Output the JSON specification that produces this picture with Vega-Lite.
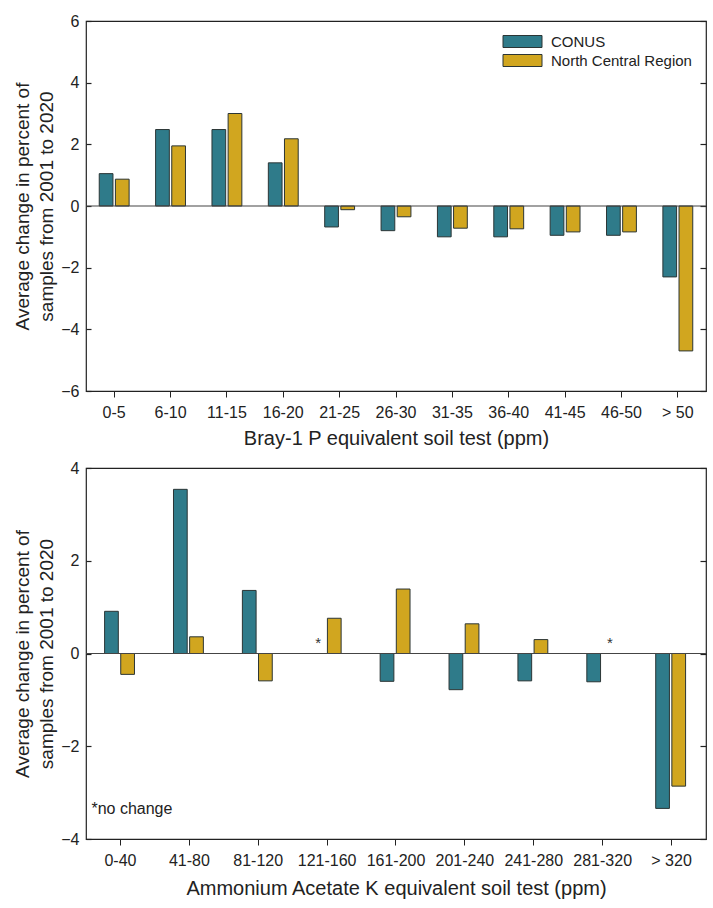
{
  "$schema": "https://vega.github.io/schema/vega-lite/v6.json",
  "padding": {"left": 13, "top": 12, "right": 0, "bottom": 0},
  "background": "white",
  "spacing": 10,
  "config": {
    "font": "Liberation Sans",
    "view": {"stroke": "#222", "strokeWidth": 1.2},
    "axis": {"labelFont": "Liberation Sans", "titleFont": "Liberation Sans", "labelColor": "#222", "titleColor": "#222", "domain": false, "grid": false, "tickColor": "#222"},
    "legend": {"labelFont": "Liberation Sans", "labelFontSize": 15, "labelColor": "#222"}
  },
  "datasets": {
    "p": [
      {"bin": "0-5", "series": "CONUS", "value": 1.05},
      {"bin": "0-5", "series": "North Central Region", "value": 0.87},
      {"bin": "6-10", "series": "CONUS", "value": 2.48},
      {"bin": "6-10", "series": "North Central Region", "value": 1.95},
      {"bin": "11-15", "series": "CONUS", "value": 2.48},
      {"bin": "11-15", "series": "North Central Region", "value": 3.0},
      {"bin": "16-20", "series": "CONUS", "value": 1.4},
      {"bin": "16-20", "series": "North Central Region", "value": 2.18},
      {"bin": "21-25", "series": "CONUS", "value": -0.68},
      {"bin": "21-25", "series": "North Central Region", "value": -0.12},
      {"bin": "26-30", "series": "CONUS", "value": -0.8},
      {"bin": "26-30", "series": "North Central Region", "value": -0.35},
      {"bin": "31-35", "series": "CONUS", "value": -1.0},
      {"bin": "31-35", "series": "North Central Region", "value": -0.72},
      {"bin": "36-40", "series": "CONUS", "value": -1.0},
      {"bin": "36-40", "series": "North Central Region", "value": -0.74},
      {"bin": "41-45", "series": "CONUS", "value": -0.95},
      {"bin": "41-45", "series": "North Central Region", "value": -0.84},
      {"bin": "46-50", "series": "CONUS", "value": -0.95},
      {"bin": "46-50", "series": "North Central Region", "value": -0.84},
      {"bin": "> 50", "series": "CONUS", "value": -2.3},
      {"bin": "> 50", "series": "North Central Region", "value": -4.7}
    ],
    "k": [
      {"bin": "0-40", "series": "CONUS", "value": 0.91},
      {"bin": "0-40", "series": "North Central Region", "value": -0.45},
      {"bin": "41-80", "series": "CONUS", "value": 3.54},
      {"bin": "41-80", "series": "North Central Region", "value": 0.36},
      {"bin": "81-120", "series": "CONUS", "value": 1.36},
      {"bin": "81-120", "series": "North Central Region", "value": -0.59},
      {"bin": "121-160", "series": "North Central Region", "value": 0.76},
      {"bin": "161-200", "series": "CONUS", "value": -0.6},
      {"bin": "161-200", "series": "North Central Region", "value": 1.39},
      {"bin": "201-240", "series": "CONUS", "value": -0.78},
      {"bin": "201-240", "series": "North Central Region", "value": 0.64},
      {"bin": "241-280", "series": "CONUS", "value": -0.59},
      {"bin": "241-280", "series": "North Central Region", "value": 0.3},
      {"bin": "281-320", "series": "CONUS", "value": -0.61},
      {"bin": "> 320", "series": "CONUS", "value": -3.34},
      {"bin": "> 320", "series": "North Central Region", "value": -2.86}
    ],
    "kstar": [
      {"bin": "121-160", "series": "CONUS", "value": 0, "label": "*"},
      {"bin": "281-320", "series": "North Central Region", "value": 0, "label": "*"}
    ],
    "knote": [
      {"bin": "0-40", "value": -3.35, "label": "*no change"}
    ]
  },
  "vconcat": [
    {
      "width": 620,
      "height": 370,
      "resolve": {"axis": {"y": "independent"}},
      "layer": [
        {
          "data": {"name": "p"},
          "mark": {"type": "bar", "stroke": "#2b3535", "strokeWidth": 1},
          "encoding": {
            "x": {"field": "bin", "type": "nominal", "sort": null,
                  "scale": {"paddingInner": 0.47, "paddingOuter": 0.235},
                  "axis": {"title": "Bray-1 P equivalent soil test (ppm)", "labelAngle": 0, "labelFontSize": 16, "titleFontSize": 20, "titleFontWeight": "normal", "labelPadding": 7, "titlePadding": 8, "tickSize": 6}},
            "xOffset": {"field": "series", "type": "nominal", "scale": {"paddingInner": 0.15}},
            "y": {"field": "value", "type": "quantitative",
                  "scale": {"domain": [-6, 6], "nice": false},
                  "axis": {"title": ["Average change in percent of", "samples from 2001 to 2020"], "titleFontSize": 19, "titleFontWeight": "normal", "titleLineHeight": 24, "labelFontSize": 16, "values": [-6, -4, -2, 0, 2, 4, 6], "tickSize": -5, "tickWidth": 1.2, "labelPadding": 12, "titlePadding": 4}},
            "color": {"field": "series", "type": "nominal",
                      "scale": {"domain": ["CONUS", "North Central Region"], "range": ["#2f7b8a", "#d1a61f"]},
                      "legend": {"title": null, "orient": "none", "legendX": 426, "legendY": 10, "symbolType": "M-1.95,-0.6H1.95V0.6H-1.95Z", "symbolSize": 400, "symbolStrokeColor": "#2b3535", "symbolStrokeWidth": 1, "labelOffset": 18, "rowPadding": -1}}
          }
        },
        {
          "data": {"values": [{"value": 0}]},
          "mark": {"type": "rule", "color": "#444", "strokeWidth": 1.2},
          "encoding": {"y": {"field": "value", "type": "quantitative",
                  "axis": {"orient": "right", "title": null, "labels": false, "values": [-6, -4, -2, 0, 2, 4, 6], "ticks": true, "tickSize": -6, "tickWidth": 1.2, "tickColor": "#222"}}}
        }
      ]
    },
    {
      "width": 620,
      "height": 371,
      "resolve": {"axis": {"y": "independent"}},
      "layer": [
        {
          "data": {"name": "k"},
          "mark": {"type": "bar", "stroke": "#2b3535", "strokeWidth": 1},
          "encoding": {
            "x": {"field": "bin", "type": "nominal", "sort": ["0-40", "41-80", "81-120", "121-160", "161-200", "201-240", "241-280", "281-320", "> 320"],
                  "scale": {"domain": ["0-40", "41-80", "81-120", "121-160", "161-200", "201-240", "241-280", "281-320", "> 320"], "paddingInner": 0.54, "paddingOuter": 0.27},
                  "axis": {"title": "Ammonium Acetate K equivalent soil test (ppm)", "labelAngle": 0, "labelFontSize": 16, "titleFontSize": 20, "titleFontWeight": "normal", "labelPadding": 7, "titlePadding": 10, "tickSize": 6}},
            "xOffset": {"field": "series", "type": "nominal", "scale": {"domain": ["CONUS", "North Central Region"], "paddingInner": 0.12}},
            "y": {"field": "value", "type": "quantitative",
                  "scale": {"domain": [-4, 4], "nice": false},
                  "axis": {"title": ["Average change in percent of", "samples from 2001 to 2020"], "titleFontSize": 19, "titleFontWeight": "normal", "titleLineHeight": 24, "labelFontSize": 16, "values": [-4, -2, 0, 2, 4], "tickSize": -5, "tickWidth": 1.2, "labelPadding": 12, "titlePadding": 4}},
            "color": {"field": "series", "type": "nominal",
                      "scale": {"domain": ["CONUS", "North Central Region"], "range": ["#2f7b8a", "#d1a61f"]},
                      "legend": {"title": null, "orient": "none", "legendX": 419, "legendY": 9, "symbolType": "M-1.95,-0.6H1.95V0.6H-1.95Z", "symbolSize": 400, "symbolStrokeColor": "#2b3535", "symbolStrokeWidth": 1, "labelOffset": 18, "rowPadding": -2}}
          }
        },
        {
          "data": {"values": [{"value": 0}]},
          "mark": {"type": "rule", "color": "#444", "strokeWidth": 1.2},
          "encoding": {"y": {"field": "value", "type": "quantitative",
                  "axis": {"orient": "right", "title": null, "labels": false, "values": [-4, -2, 0, 2, 4], "ticks": true, "tickSize": -6, "tickWidth": 1.2, "tickColor": "#222"}}}
        },
        {
          "data": {"name": "kstar"},
          "mark": {"type": "text", "fontSize": 15, "dy": -11, "color": "#333"},
          "encoding": {
            "x": {"field": "bin", "type": "nominal", "sort": ["0-40", "41-80", "81-120", "121-160", "161-200", "201-240", "241-280", "281-320", "> 320"]},
            "xOffset": {"field": "series", "type": "nominal"},
            "y": {"field": "value", "type": "quantitative", "axis": null},
            "text": {"field": "label"}
          }
        },
        {
          "data": {"name": "knote"},
          "mark": {"type": "text", "fontSize": 16, "align": "left", "dx": -29, "color": "#222"},
          "encoding": {
            "x": {"field": "bin", "type": "nominal", "sort": ["0-40", "41-80", "81-120", "121-160", "161-200", "201-240", "241-280", "281-320", "> 320"]},
            "y": {"field": "value", "type": "quantitative", "axis": null},
            "text": {"field": "label"}
          }
        }
      ]
    }
  ]
}
